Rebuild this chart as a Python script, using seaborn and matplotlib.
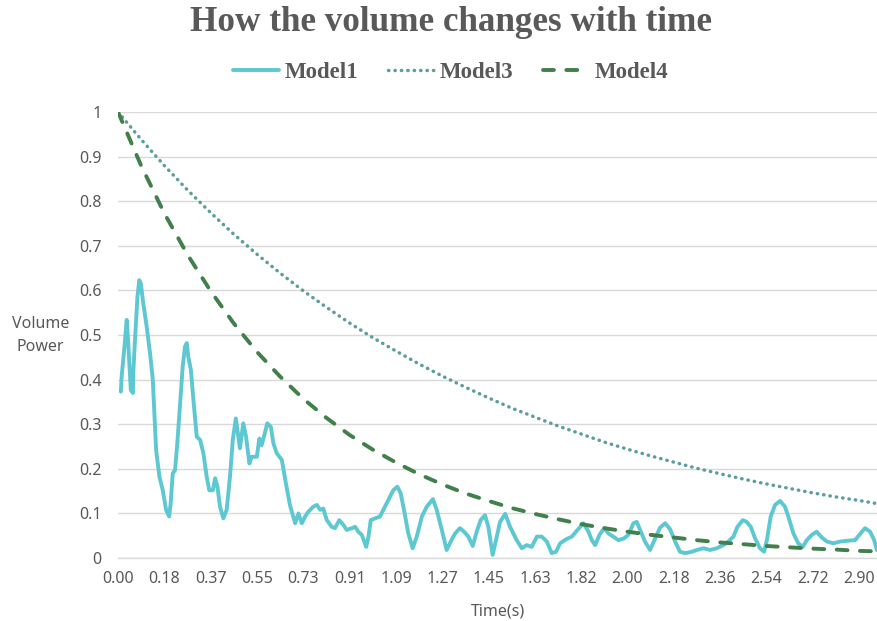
import matplotlib
matplotlib.use('Agg')
import matplotlib.pyplot as plt
import pandas as pd
import seaborn as sns


# tick labels along the time axis (equally spaced)
X_TICK_LABELS = ['0.00', '0.18', '0.37', '0.55', '0.73', '0.91', '1.09', '1.27',
                 '1.45', '1.63', '1.82', '2.00', '2.18', '2.36', '2.54', '2.72',
                 '2.90']
Y_TICKS = [0, 0.1, 0.2, 0.3, 0.4, 0.5, 0.6, 0.7, 0.8, 0.9, 1.0]
Y_TICK_LABELS = ['0', '0.1', '0.2', '0.3', '0.4', '0.5', '0.6', '0.7', '0.8',
                 '0.9', '1']

T_MODEL1 = [0.011, 0.014, 0.023, 0.034, 0.040, 0.050, 0.058, 0.060, 0.067,
            0.076, 0.083, 0.089, 0.097, 0.112, 0.125, 0.136, 0.142, 0.149,
            0.162, 0.175, 0.188, 0.200, 0.206, 0.214, 0.223, 0.232, 0.243,
            0.253, 0.262, 0.269, 0.275, 0.285, 0.295, 0.308, 0.321, 0.334,
            0.347, 0.357, 0.371, 0.380, 0.389, 0.399, 0.412, 0.425, 0.438,
            0.449, 0.461, 0.471, 0.477, 0.490, 0.501, 0.514, 0.523, 0.543,
            0.553, 0.562, 0.571, 0.584, 0.598, 0.608, 0.621, 0.641, 0.657,
            0.673, 0.693, 0.706, 0.719, 0.732, 0.745, 0.764, 0.778, 0.791,
            0.803, 0.817, 0.836, 0.849, 0.866, 0.882, 0.895, 0.915, 0.928,
            0.940, 0.954, 0.971, 0.980, 0.989, 1.006, 1.025, 1.041, 1.058,
            1.077, 1.093, 1.106, 1.119, 1.136, 1.153, 1.169, 1.189, 1.208,
            1.232, 1.247, 1.267, 1.286, 1.302, 1.319, 1.338, 1.354, 1.371,
            1.388, 1.404, 1.419, 1.436, 1.449, 1.466, 1.479, 1.495, 1.515,
            1.534, 1.560, 1.580, 1.599, 1.619, 1.639, 1.658, 1.678, 1.697,
            1.714, 1.730, 1.753, 1.776, 1.798, 1.821, 1.841, 1.854, 1.867,
            1.884, 1.902, 1.919, 1.938, 1.958, 1.980, 1.997, 2.017, 2.030,
            2.043, 2.062, 2.082, 2.102, 2.121, 2.141, 2.160, 2.180, 2.199,
            2.219, 2.245, 2.265, 2.291, 2.317, 2.343, 2.369, 2.388, 2.408,
            2.424, 2.445, 2.460, 2.476, 2.493, 2.512, 2.528, 2.539, 2.554,
            2.571, 2.591, 2.610, 2.623, 2.643, 2.662, 2.680, 2.695, 2.715,
            2.734, 2.754, 2.774, 2.799, 2.826, 2.858, 2.884, 2.901, 2.923,
            2.943, 2.959, 2.969]
V_MODEL1 = [0.373, 0.407, 0.460, 0.534, 0.480, 0.377, 0.370, 0.420, 0.496,
            0.586, 0.623, 0.616, 0.578, 0.519, 0.460, 0.400, 0.325, 0.242,
            0.182, 0.152, 0.108, 0.093, 0.123, 0.190, 0.197, 0.258, 0.347,
            0.429, 0.474, 0.482, 0.451, 0.422, 0.354, 0.272, 0.265, 0.235,
            0.182, 0.152, 0.152, 0.179, 0.160, 0.115, 0.089, 0.108, 0.182,
            0.265, 0.313, 0.272, 0.246, 0.302, 0.272, 0.212, 0.227, 0.227,
            0.268, 0.253, 0.272, 0.302, 0.294, 0.257, 0.235, 0.220, 0.167,
            0.118, 0.078, 0.100, 0.078, 0.093, 0.104, 0.115, 0.119, 0.108,
            0.111, 0.085, 0.070, 0.067, 0.085, 0.074, 0.063, 0.067, 0.070,
            0.059, 0.052, 0.025, 0.048, 0.085, 0.089, 0.093, 0.111, 0.130,
            0.152, 0.160, 0.145, 0.108, 0.055, 0.022, 0.048, 0.093, 0.115,
            0.132, 0.108, 0.063, 0.018, 0.037, 0.055, 0.067, 0.059, 0.048,
            0.027, 0.060, 0.085, 0.096, 0.070, 0.007, 0.040, 0.081, 0.099,
            0.070, 0.040, 0.022, 0.029, 0.025, 0.048, 0.048, 0.037, 0.011,
            0.014, 0.033, 0.042, 0.048, 0.063, 0.078, 0.059, 0.040, 0.029,
            0.052, 0.067, 0.055, 0.048, 0.040, 0.044, 0.052, 0.078, 0.081,
            0.063, 0.037, 0.018, 0.044, 0.068, 0.078, 0.065, 0.037, 0.014,
            0.011, 0.014, 0.018, 0.022, 0.018, 0.022, 0.029, 0.037, 0.048,
            0.070, 0.085, 0.081, 0.070, 0.044, 0.022, 0.014, 0.040, 0.093,
            0.119, 0.128, 0.115, 0.093, 0.055, 0.033, 0.025, 0.040, 0.052,
            0.059, 0.046, 0.037, 0.033, 0.037, 0.039, 0.040, 0.052, 0.067,
            0.059, 0.040, 0.018]

# Model3 and Model4: smooth decay curves
T_SMOOTH = [0.000, 0.091, 0.181, 0.272, 0.363, 0.453, 0.544, 0.634, 0.725,
            0.816, 0.906, 0.997, 1.088, 1.178, 1.269, 1.359, 1.450, 1.541,
            1.631, 1.722, 1.813, 1.903, 1.994, 2.084, 2.175, 2.266, 2.356,
            2.447, 2.538, 2.628, 2.719, 2.809, 2.900, 2.970]
V_MODEL3 = [1.000, 0.938, 0.880, 0.825, 0.774, 0.726, 0.681, 0.639, 0.599,
            0.562, 0.527, 0.494, 0.464, 0.435, 0.408, 0.383, 0.359, 0.336,
            0.316, 0.296, 0.278, 0.260, 0.244, 0.229, 0.215, 0.201, 0.189,
            0.177, 0.166, 0.156, 0.146, 0.137, 0.129, 0.122]
V_MODEL4 = [1.000, 0.879, 0.773, 0.680, 0.598, 0.526, 0.462, 0.407, 0.357,
            0.314, 0.276, 0.243, 0.214, 0.188, 0.165, 0.145, 0.128, 0.112,
            0.099, 0.087, 0.076, 0.067, 0.059, 0.052, 0.046, 0.040, 0.035,
            0.031, 0.027, 0.024, 0.021, 0.019, 0.016, 0.015]

TEXT_COLOR = '#595959'
GRID_COLOR = '#d9d9d9'


if __name__ == "__main__":
    sns.set_theme(style='white')
    plt.rcParams['font.family'] = ['Noto Sans', 'DejaVu Sans']

    model1 = pd.DataFrame({'time': T_MODEL1, 'power': V_MODEL1})
    smooth = pd.DataFrame({'time': T_SMOOTH, 'm3': V_MODEL3, 'm4': V_MODEL4})

    fig = plt.figure(figsize=(8.77, 6.21), dpi=100)
    ax = fig.add_axes([0.1346, 0.1014, 0.8654, 0.7182])

    sns.lineplot(data=model1, x='time', y='power', ax=ax, color='#5ec8d2',
                 linewidth=2.8, label='Model1')
    sns.lineplot(data=smooth, x='time', y='m3', ax=ax, color='#5b9e9c',
                 linewidth=2.5, label='Model3',
                 linestyle=(0, (0.1, 1.75)), dash_capstyle='round')
    sns.lineplot(data=smooth, x='time', y='m4', ax=ax, color='#417f4b',
                 linewidth=2.8, label='Model4',
                 linestyle=(0, (2.8, 3.2)), dash_capstyle='round')

    # the dotted/dashed lines need round caps set on the artists too
    for line in ax.get_lines()[1:]:
        line.set_dash_capstyle('round')

    ax.set_xlim(0, 2.97)
    ax.set_ylim(0, 1.0)
    step = 2.90 / 16
    ax.set_xticks([i * step for i in range(len(X_TICK_LABELS))])
    ax.set_xticklabels(X_TICK_LABELS)
    ax.set_yticks(Y_TICKS)
    ax.set_yticklabels(Y_TICK_LABELS)
    ax.tick_params(axis='both', length=0, labelsize=11.5, colors=TEXT_COLOR)
    ax.tick_params(axis='y', pad=12)
    ax.tick_params(axis='x', pad=9)

    ax.yaxis.grid(True, color=GRID_COLOR, linewidth=1.0)
    ax.xaxis.grid(False)
    ax.set_axisbelow(True)
    for side in ['top', 'right', 'left']:
        ax.spines[side].set_visible(False)
    ax.spines['bottom'].set_color(GRID_COLOR)
    ax.spines['bottom'].set_linewidth(1.0)

    ax.set_xlabel('Time(s)', fontsize=11.5, color=TEXT_COLOR, labelpad=12)
    ax.set_ylabel('')
    fig.text(0.046, 0.46, 'Volume\nPower', fontsize=11.5, color=TEXT_COLOR,
             ha='center', va='center', linespacing=1.6)

    fig.text(0.514, 0.963, 'How the volume changes with time',
             family='Liberation Serif', fontweight='bold', fontsize=25.3,
             color=TEXT_COLOR, ha='center', va='center')

    handles, labels = ax.get_legend_handles_labels()
    ax.get_legend().remove()
    fig.legend(handles, labels, loc='center', bbox_to_anchor=(0.514, 0.884),
               ncol=3, frameon=False, handlelength=2.0, columnspacing=1.3,
               handletextpad=0.25,
               prop={'family': 'Liberation Serif', 'weight': 'bold',
                     'size': 16.5},
               labelcolor=TEXT_COLOR)

    fig.savefig('out.png', dpi=100)
    plt.close()
